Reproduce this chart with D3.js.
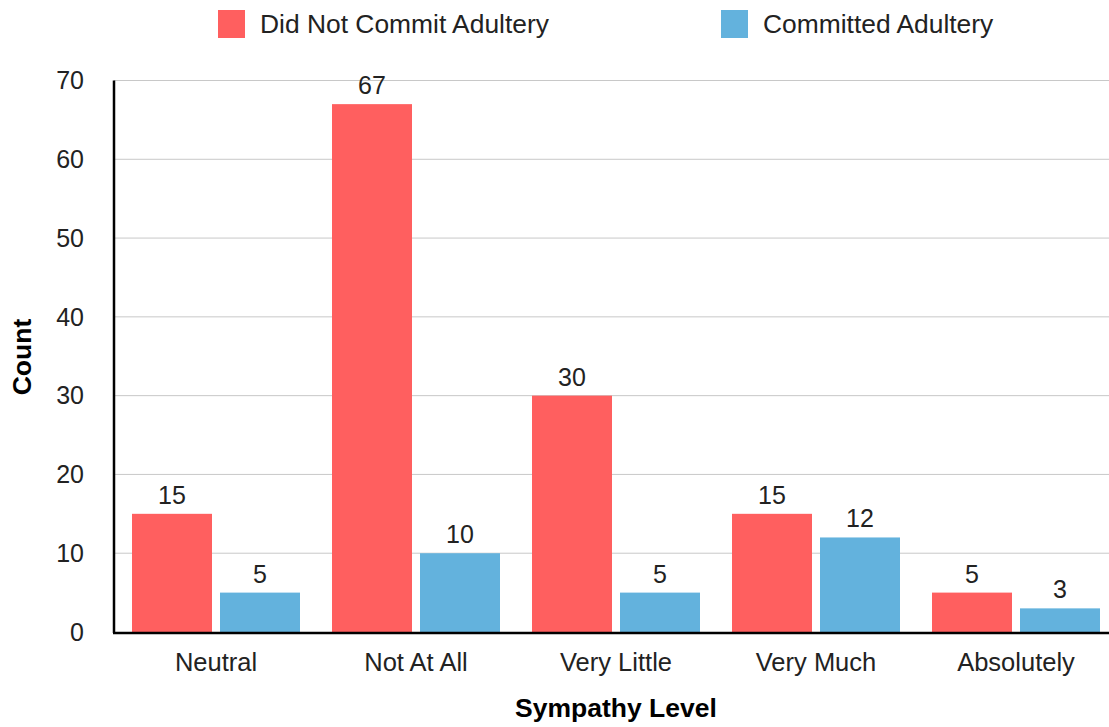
<!DOCTYPE html>
<html><head><meta charset="utf-8">
<script src="https://cdn.jsdelivr.net/npm/d3@7"></script>
<style>body{margin:0;background:#fff;}svg{display:block;font-family:"Liberation Sans",Arial,sans-serif;}</style>
</head><body>
<svg id="c" width="1109" height="727"></svg>
<script>
const categories = ["Neutral","Not At All","Very Little","Very Much","Absolutely"];
const seriesNames = ["Did Not Commit Adultery","Committed Adultery"];
const didNotCommit = [15,67,30,15,5];
const committed = [5,10,5,12,3];
const yTicks = [0,10,20,30,40,50,60,70];
const colors = ["#ff5f5f","#63b2dd"];

(function(){
const svg = d3.select("#c");
const pLeft = 116, pRight = 1116, pTop = 80.5, pBottom = 632;
const x = d3.scaleBand().domain(categories).range([pLeft,pRight]).paddingInner(0).paddingOuter(0);
const x1 = d3.scaleBand().domain(seriesNames).range([16,184]).paddingInner(8/88);
const y = d3.scaleLinear().domain([0,70]).range([pBottom,pTop]);

svg.append("g").selectAll("line").data(yTicks.filter(d=>d>0)).join("line")
  .attr("x1",114).attr("x2",1109).attr("y1",d=>y(d)).attr("y2",d=>y(d))
  .attr("stroke","#c8c8c8").attr("stroke-width",1);

svg.append("g").selectAll("text").data(yTicks).join("text")
  .attr("x",84).attr("y",d=>y(d)).attr("dy","0.35em").attr("text-anchor","end")
  .attr("font-size",25).attr("fill","#222").text(d=>d);

const data = categories.map((c,i)=>({cat:c, vals:[didNotCommit[i],committed[i]]}));
const groups = svg.append("g").selectAll("g").data(data).join("g")
  .attr("transform",d=>`translate(${x(d.cat)},0)`);
groups.selectAll("rect").data(d=>d.vals.map((v,j)=>({v,s:seriesNames[j],j}))).join("rect")
  .attr("x",d=>x1(d.s)).attr("width",x1.bandwidth())
  .attr("y",d=>y(d.v)).attr("height",d=>y(0)-y(d.v)).attr("fill",d=>colors[d.j]);
groups.selectAll("text").data(d=>d.vals.map((v,j)=>({v,s:seriesNames[j],j}))).join("text")
  .attr("x",d=>x1(d.s)+x1.bandwidth()/2).attr("y",d=>y(d.v)-10)
  .attr("text-anchor","middle").attr("font-size",25).attr("fill","#222").text(d=>d.v);

svg.append("line").attr("x1",114).attr("x2",114).attr("y1",pTop).attr("y2",pBottom+1)
  .attr("stroke","#000").attr("stroke-width",2.5);
svg.append("line").attr("x1",113).attr("x2",1109).attr("y1",pBottom+1).attr("y2",pBottom+1)
  .attr("stroke","#000").attr("stroke-width",2.5);

svg.append("g").selectAll("text").data(categories).join("text")
  .attr("x",d=>x(d)+x.bandwidth()/2).attr("y",671).attr("text-anchor","middle")
  .attr("font-size",25.5).attr("fill","#222").text(d=>d);

svg.append("text").attr("x",616).attr("y",717).attr("text-anchor","middle")
  .attr("font-size",26.5).attr("font-weight","bold").attr("fill","#000").text("Sympathy Level");
svg.append("text").attr("transform","translate(31,357) rotate(-90)").attr("text-anchor","middle")
  .attr("font-size",26.5).attr("font-weight","bold").attr("fill","#000").text("Count");

const legX = [218,721];
const leg = svg.append("g").selectAll("g").data(seriesNames).join("g")
  .attr("transform",(d,i)=>`translate(${legX[i]},10)`);
leg.append("rect").attr("width",27).attr("height",28).attr("fill",(d,i)=>colors[i]);
leg.append("text").attr("x",42).attr("y",14).attr("dy","0.35em")
  .attr("font-size",26.4).attr("fill","#222").text(d=>d);
})();
</script>
</body></html>
